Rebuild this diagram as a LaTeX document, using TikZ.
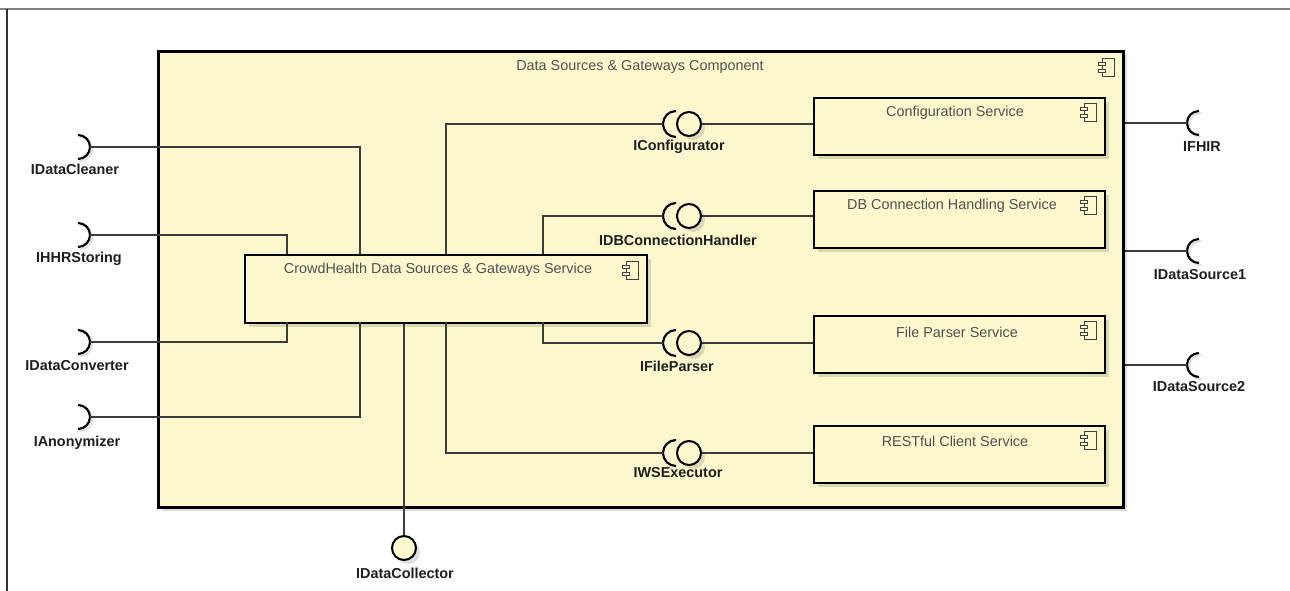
\documentclass[tikz,border=0pt]{standalone}
\usepackage{fontspec}
\setmainfont{Liberation Sans}
\usetikzlibrary{shadows,calc}
\definecolor{compfill}{RGB}{251,248,206}
\definecolor{txtgray}{RGB}{80,80,80}
\definecolor{lbl}{RGB}{30,30,30}
\definecolor{conn}{RGB}{60,60,60}
\begin{document}
\begin{tikzpicture}[x=0.75pt,y=-0.75pt,
  shad/.style={drop shadow={shadow xshift=3pt,shadow yshift=-3pt,fill=black,opacity=0.13}},
  outerbox/.style={draw=black,line width=1.9pt,fill=compfill,rectangle,inner sep=0pt,anchor=north west,shad,minimum width=723.75pt,minimum height=342pt},
  svcbox/.style={draw=black,line width=1.5pt,fill=compfill,rectangle,inner sep=0pt,anchor=north west,shad,minimum width=218.25pt,minimum height=42.75pt},
  svctext/.style={text=txtgray,font=\fontsize{10.8pt}{12pt}\selectfont,inner sep=0pt},
  ifl/.style={text=lbl,font=\fontsize{10.8pt}{12pt}\selectfont\bfseries,inner sep=0pt},
  conline/.style={draw=conn,line width=0.85pt},
  ball/.style={circle,draw=black,line width=1.5pt,fill=compfill,minimum size=18pt,inner sep=0pt,shad},
  sockpt/.style={rectangle,inner sep=0pt,minimum size=#1},
  sockarc/.style={draw=black,line width=1.6pt},
  sockshade/.style={draw=black!12,line width=1.6pt},
  compicon/.pic={
    \draw[line width=0.6pt,draw=black!75] (-5,-9) rectangle (7,9);
    \draw[line width=0.6pt,draw=black!75,fill=compfill] (-9,-5) rectangle (-2,-2);
    \draw[line width=0.6pt,draw=black!75,fill=compfill] (-9,2) rectangle (-2,5);
  }]
\useasboundingbox (0,0) rectangle (1290,590);
\clip (0,0) rectangle (1290,590);
\fill[white] (0,0) rectangle (1290,590);
% frame
\draw[draw=black!50,line width=1.4pt] (-5,9) -- (1295,9);
\draw[draw=black!80,line width=1.2pt] (7,9) -- (7,595);

% outer component
\node[outerbox] (outer) at (157,50) {};
\node[svctext] (outertitle) at (640,67) {Data Sources \& Gateways Component};
\pic at (1107,67) {compicon};

% inner services
\node[svcbox] (cfg) at (813,97) {};
\node[svctext] (cfgt) at (955,113) {Configuration Service};
\pic at (1089,112) {compicon};
\node[svcbox] (db) at (813,190) {};
\node[svctext] (dbt) at (952,206) {DB Connection Handling Service};
\pic at (1089,205) {compicon};
\node[svcbox] (fp) at (813,315) {};
\node[svctext] (fpt) at (957,332) {File Parser Service};
\pic at (1089,330) {compicon};
\node[svcbox] (rest) at (813,425) {};
\node[svctext] (restt) at (955,441) {RESTful Client Service};
\pic at (1089,440) {compicon};

% central service
\node[svcbox,minimum width=301.5pt,minimum height=51pt] (crowd) at (244,254) {};
\node[svctext] (crowdt) at (438,270) {CrowdHealth Data Sources \& Gateways Service};
\pic at (631,270) {compicon};

% junction points on the central service
\coordinate (jclean) at (360,254);
\coordinate (jhhr) at (287,254);
\coordinate (jconv) at (287,322);
\coordinate (janon) at (360,322);
\coordinate (jcfg) at (446,254);
\coordinate (jdb) at (543,254);
\coordinate (jfp) at (543,322);
\coordinate (jws) at (446,322);

% left required interfaces
\foreach \n/\y in {lclean/147,lhhr/235,lconv/342,lanon/417}{
  \node[sockpt=18pt] (\n) at (78,\y) {};
  \draw[sockshade] ($(\n.center)+(2,-12+2)$) arc[start angle=-90,end angle=90,radius=12];
  \draw[sockarc] ($(\n.center)+(0,-12)$) arc[start angle=-90,end angle=90,radius=12];
}
\node[ifl] (lcleant) at (75,169) {IDataCleaner};
\node[ifl] (lhhrt) at (79,259) {IHHRStoring};
\node[ifl] (lconvt) at (77,366) {IDataConverter};
\node[ifl] (lanont) at (77,443) {IAnonymizer};
\draw[conline] (lclean.east) -| (jclean);
\draw[conline] (lhhr.east) -| (jhhr);
\draw[conline] (lconv.east) -| (jconv);
\draw[conline] (lanon.east) -| (janon);

% middle assembly connectors
\foreach \n/\y in {cfg/124,db/216,fp/343,ws/453}{
  \node[sockpt=19.5pt] (s\n) at (676,\y) {};
  \draw[sockarc] ($(s\n.center)+(0,-13)$) arc[start angle=270,end angle=90,radius=13];
  \node[ball] (b\n) at (689,\y) {};
}
\node[ifl] (scfgt) at (679,147) {IConfigurator};
\node[ifl] (sdbt) at (678,240) {IDBConnectionHandler};
\node[ifl] (sfpt) at (677,366) {IFileParser};
\node[ifl] (swst) at (678,473) {IWSExecutor};
\draw[conline] (jcfg) |- (scfg.west);
\draw[conline] (jdb) |- (sdb.west);
\draw[conline] (jfp) |- (sfp.west);
\draw[conline] (jws) |- (sws.west);
\draw[conline] (bcfg.east) -- (bcfg.east -| cfg.west);
\draw[conline] (bdb.east) -- (bdb.east -| db.west);
\draw[conline] (bfp.east) -- (bfp.east -| fp.west);
\draw[conline] (bws.east) -- (bws.east -| rest.west);

% right required interfaces
\foreach \n/\y in {rfhir/123,rds1/251,rds2/365}{
  \node[sockpt=18pt] (\n) at (1199,\y) {};
  \draw[sockshade] ($(\n.center)+(2,-12+2)$) arc[start angle=270,end angle=90,radius=12];
  \draw[sockarc] ($(\n.center)+(0,-12)$) arc[start angle=270,end angle=90,radius=12];
  \draw[conline] (\n.west) -- (\n.west -| outer.east);
}
\node[ifl] (rfhirt) at (1202,147) {IFHIR};
\node[ifl] (rds1t) at (1200,275) {IDataSource1};
\node[ifl] (rds2t) at (1199,387) {IDataSource2};

% provided interface at the bottom
\node[ball] (bcol) at (404,548) {};
\node[ifl] (bcolt) at (405,573) {IDataCollector};
\draw[conline] (bcol.north) -- (bcol.north |- crowd.south);
\end{tikzpicture}
\end{document}
